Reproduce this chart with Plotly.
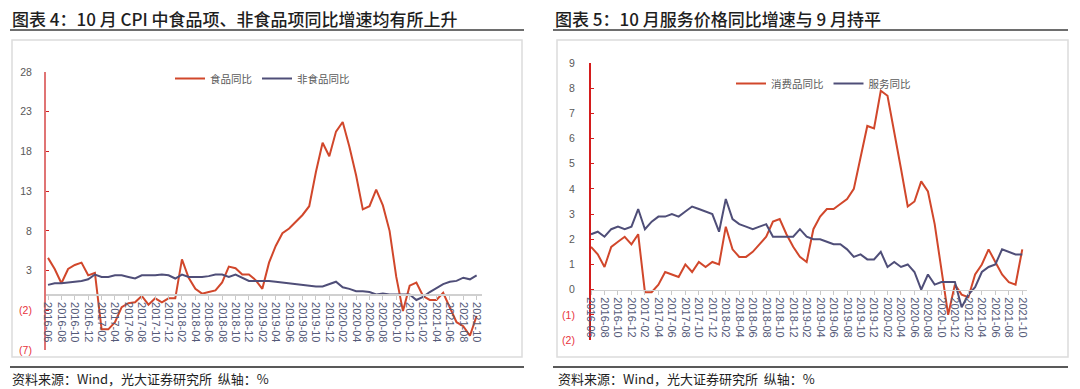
import plotly.graph_objects as go

months = [
    "2016-06", "2016-07", "2016-08", "2016-09", "2016-10", "2016-11", "2016-12",
    "2017-01", "2017-02", "2017-03", "2017-04", "2017-05", "2017-06",
    "2017-07", "2017-08", "2017-09", "2017-10", "2017-11", "2017-12",
    "2018-01", "2018-02", "2018-03", "2018-04", "2018-05", "2018-06",
    "2018-07", "2018-08", "2018-09", "2018-10", "2018-11", "2018-12",
    "2019-01", "2019-02", "2019-03", "2019-04", "2019-05", "2019-06",
    "2019-07", "2019-08", "2019-09", "2019-10", "2019-11", "2019-12",
    "2020-01", "2020-02", "2020-03", "2020-04", "2020-05", "2020-06",
    "2020-07", "2020-08", "2020-09", "2020-10", "2020-11", "2020-12",
    "2021-01", "2021-02", "2021-03", "2021-04", "2021-05", "2021-06",
    "2021-07", "2021-08", "2021-09", "2021-10",
]

food_yoy = [
    4.6, 3.2, 1.4, 3.2, 3.7, 4.0, 2.4,
    2.7, -4.4, -4.4, -3.5, -1.6, -1.1, -1.0, -0.2, -1.3, -0.5, -1.0, -0.5,
    -0.5, 4.4, 2.1, 0.7, 0.1, 0.3, 0.5, 1.5, 3.5, 3.3, 2.5, 2.5,
    1.8, 0.7, 4.0, 6.1, 7.7, 8.3, 9.1, 10.0, 11.1, 15.4, 19.1, 17.4,
    20.5, 21.7, 18.6, 15.0, 10.7, 11.1, 13.2, 11.2, 8.0, 2.2, -2.1, 1.1,
    1.5, -0.2, -0.7, -0.7, 0.2, -1.7, -3.5, -4.0, -5.2, -2.7,
]
nonfood_yoy = [
    1.2, 1.4, 1.4, 1.5, 1.6, 1.7, 1.9,
    2.5, 2.2, 2.2, 2.4, 2.4, 2.2, 2.0, 2.4, 2.4, 2.4, 2.5, 2.4,
    2.0, 2.5, 2.2, 2.2, 2.2, 2.3, 2.5, 2.5, 2.2, 2.5, 2.1, 1.7,
    1.7, 1.7, 1.7, 1.6, 1.5, 1.4, 1.3, 1.2, 1.1, 1.0, 1.0, 1.3,
    1.6, 0.9, 0.7, 0.4, 0.4, 0.3, 0.0, 0.1, 0.0, 0.0, 0.0, 0.0,
    -0.7, -0.3, 0.3, 0.8, 1.3, 1.6, 1.7, 2.1, 1.9, 2.4,
]
goods_yoy = [
    1.7, 1.4, 0.9, 1.7, 1.9, 2.1, 1.8,
    2.2, -0.1, -0.1, 0.2, 0.7, 0.6, 0.5, 1.0, 0.7, 1.1, 0.9, 1.1,
    1.0, 2.5, 1.6, 1.3, 1.3, 1.5, 1.8, 2.1, 2.7, 2.8, 2.2, 1.7,
    1.3, 1.1, 2.4, 2.9, 3.2, 3.2, 3.4, 3.6, 4.0, 5.3, 6.5, 6.4,
    7.9, 7.7, 6.3, 4.8, 3.3, 3.5, 4.3, 3.9, 2.6, 0.7, -1.0, 0.2,
    -0.2, -0.3, 0.6, 1.0, 1.6, 1.1, 0.6, 0.3, 0.2, 1.6,
]
services_yoy = [
    2.2, 2.3, 2.1, 2.4, 2.5, 2.4, 2.5,
    3.2, 2.4, 2.7, 2.9, 2.9, 3.0, 2.9, 3.1, 3.3, 3.2, 3.1, 3.0,
    2.3, 3.6, 2.8, 2.6, 2.5, 2.4, 2.5, 2.6, 2.1, 2.1, 2.1, 2.1,
    2.4, 2.1, 2.0, 2.0, 1.9, 1.8, 1.8, 1.6, 1.3, 1.4, 1.2, 1.2,
    1.5, 0.9, 1.1, 0.9, 1.0, 0.7, 0.0, 0.6, 0.2, 0.3, 0.3, 0.3,
    -0.7, -0.2, 0.1, 0.7, 0.9, 1.0, 1.6, 1.5, 1.4, 1.4,
]

left_yticks = [-7, -2, 3, 8, 13, 18, 23, 28]
right_yticks = [-2, -1, 0, 1, 2, 3, 4, 5, 6, 7, 8, 9]

title_left = "图表 4：10 月 CPI 中食品项、非食品项同比增速均有所上升"
title_right = "图表 5：10 月服务价格同比增速与 9 月持平"
source_text = "资料来源：Wind，光大证券研究所  纵轴：%"

W, H = 1080, 389
RED = "#d1472b"
BLUE = "#4f4e78"
NEG = "#e8323c"
GRAY = "#595959"
CJK = "Noto Sans CJK SC"
LAT = "Liberation Sans, Arial, sans-serif"


def px(x):
    return x / W


def py(y):
    return 1 - y / H


def fmt(v, color):
    if v < 0:
        return f"<span style='color:{NEG}'>({abs(v)})</span>"
    return f"<span style='color:{color}'>{v}</span>"


fig = go.Figure()

fig.add_trace(go.Scatter(x=months, y=food_yoy, name="食品同比", mode="lines",
                         line=dict(color=RED, width=2), xaxis="x", yaxis="y", legend="legend"))
fig.add_trace(go.Scatter(x=months, y=nonfood_yoy, name="非食品同比", mode="lines",
                         line=dict(color=BLUE, width=2), xaxis="x", yaxis="y", legend="legend"))
fig.add_trace(go.Scatter(x=months, y=goods_yoy, name="消费品同比", mode="lines",
                         line=dict(color=RED, width=2), xaxis="x2", yaxis="y2", legend="legend2"))
fig.add_trace(go.Scatter(x=months, y=services_yoy, name="服务同比", mode="lines",
                         line=dict(color=BLUE, width=2), xaxis="x2", yaxis="y2", legend="legend2"))

l_y0, l_y1 = py(350), py(72)
l_zero = l_y0 + (0 - (-7)) / 35 * (l_y1 - l_y0)
r_y0, r_y1 = py(340), py(63)
r_zero = r_y0 + (0 - (-2)) / 11 * (r_y1 - r_y0)

xcommon = dict(type="category", tickmode="array", tickvals=months[::2], ticktext=months[::2],
               tickangle=90, showline=True, linecolor="#d0d0d0", linewidth=1.5,
               ticks="outside", ticklen=4, tickcolor="#c8c8c8", showgrid=False, zeroline=False,
               automargin=False,
               tickfont=dict(family=LAT, size=11, color="#545a78"), fixedrange=True)

fig.update_layout(
    template="none",
    width=W, height=H, autosize=False,
    margin=dict(l=0, r=0, t=0, b=0, pad=0, autoexpand=False),
    paper_bgcolor="white", plot_bgcolor="rgba(0,0,0,0)",
    hovermode=False,
    xaxis=dict(domain=[px(45), px(482)], range=[-0.45, 64.8], anchor="free", position=l_zero,
               **xcommon),
    yaxis=dict(domain=[l_y0, l_y1], range=[-7, 28], tickmode="array", tickvals=left_yticks,
               ticktext=[fmt(v, GRAY) for v in left_yticks], showline=True, linecolor="#e07474",
               linewidth=2, ticks="inside", ticklen=3, tickcolor="#d02020", showgrid=False,
               zeroline=False, anchor="free", position=px(45), automargin=False,
               tickfont=dict(family=LAT, size=10.5, color=GRAY), ticklabelstandoff=10, fixedrange=True),
    xaxis2=dict(domain=[px(589), px(1027)], range=[-0.3, 64.7], anchor="free", position=r_zero,
                **xcommon),
    yaxis2=dict(domain=[r_y0, r_y1], range=[-2, 9], tickmode="array", tickvals=right_yticks,
                ticktext=[fmt(v, GRAY) for v in right_yticks], showline=True, linecolor="#d41c1c",
                linewidth=1.5, ticks="inside", ticklen=3, tickcolor="#d41c1c", showgrid=False,
                zeroline=False, anchor="free", position=px(589), automargin=False,
                tickfont=dict(family=LAT, size=10.5, color=GRAY), ticklabelstandoff=12, fixedrange=True),
    legend=dict(orientation="h", x=px(170), y=py(64), xanchor="left", yanchor="top",
                font=dict(family=CJK, size=10.5, color=GRAY), bgcolor="rgba(0,0,0,0)",
                itemwidth=30, tracegroupgap=0),
    legend2=dict(orientation="h", x=px(731), y=py(69), xanchor="left", yanchor="top",
                 font=dict(family=CJK, size=10.5, color=GRAY), bgcolor="rgba(0,0,0,0)",
                 itemwidth=30, tracegroupgap=0),
    showlegend=True,
)

shapes = []
for (x0, x1) in [(10, 524), (553, 1068)]:
    shapes.append(dict(type="line", xref="paper", yref="paper", x0=px(x0), x1=px(x1),
                       y0=py(30), y1=py(30), line=dict(color="#6e6e6e", width=2)))
    shapes.append(dict(type="line", xref="paper", yref="paper", x0=px(x0), x1=px(x1),
                       y0=py(367), y1=py(367), line=dict(color="#222222", width=1.5)))
for (x0, x1) in [(12, 522), (557, 1068)]:
    shapes.append(dict(type="rect", xref="paper", yref="paper", x0=px(x0), x1=px(x1),
                       y0=py(357), y1=py(40), line=dict(color="#dcdcdc", width=1.5),
                       fillcolor="rgba(0,0,0,0)", layer="below"))
fig.update_layout(shapes=shapes)

annotations = []
for (x0, t) in [(10, title_left), (553, title_right)]:
    annotations.append(dict(text=t, xref="paper", yref="paper", x=px(x0), y=py(18),
                            xanchor="left", yanchor="middle", showarrow=False,
                            font=dict(family=CJK, size=17, color="#1e1e1e", weight=500)))
for x0 in [10, 556]:
    annotations.append(dict(text=source_text, xref="paper", yref="paper", x=px(x0), y=py(378),
                            xanchor="left", yanchor="middle", showarrow=False,
                            font=dict(family=CJK, size=13, color="#1e1e1e")))
fig.update_layout(annotations=annotations)

fig.write_html("out.html", config={"displayModeBar": False, "staticPlot": True},
               post_script="document.body.style.margin='0px';document.body.style.overflow='hidden';")
